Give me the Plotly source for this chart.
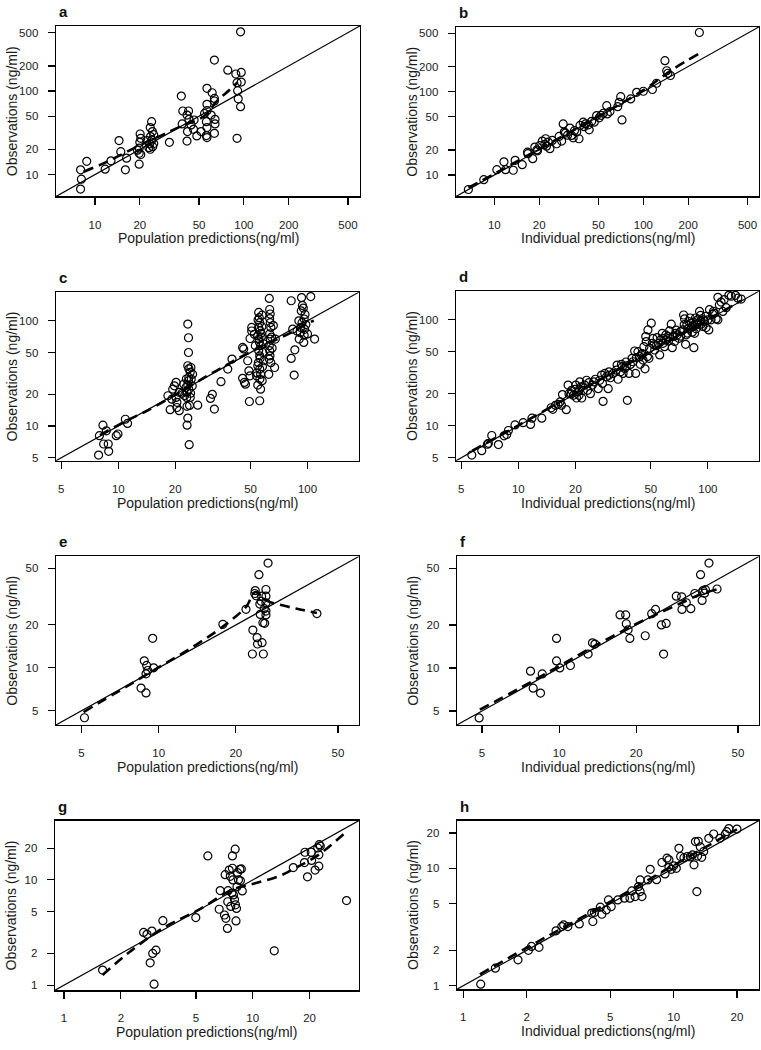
import plotly.graph_objects as go

W, H = 761, 1050

# ---------------- data ----------------
# a: population predictions vs observations (study 1)
pred_a = [8.0, 8.1, 8.0, 8.8, 11.7, 12.8, 14.5, 14.9, 16.0, 16.3, 19.8, 19.8, 20.1, 20.3, 20.0, 19.8, 20.3, 19.3,
          23.5, 24.0, 23.5, 24.3, 24.1, 23.3, 24.8, 24.4, 23.6, 24.8, 22.3, 23.0, 31.6, 38.0, 38.9, 38.5, 41.5, 41.8,
          42.5, 41.5, 42.8, 44.2, 45.9, 46.3, 48.3, 51.6, 54.4, 56.5, 56.5, 56.5, 56.0, 56.5, 56.0, 56.5, 60.3, 61.2,
          63.4, 63.4, 63.4, 64.0, 64.0, 63.4, 78.0, 88.3, 90.0, 90.8, 91.6, 90.0, 95.0, 96.0, 96.0, 95.0]
obs_a = [6.7, 8.8, 11.4, 14.4, 11.6, 14.6, 25.5, 18.8, 11.4, 15.7, 13.3, 20.7, 30.6, 27.2, 24.3, 18.0, 17.4, 19.6,
         20.1, 43.0, 36.5, 32.7, 25.9, 23.3, 23.5, 21.6, 28.5, 30.0, 25.5, 21.0, 24.3, 87.0, 57.7, 40.4, 25.2, 32.7,
         57.7, 51.6, 45.8, 39.3, 34.8, 45.0, 29.0, 32.7, 54.0, 69.4, 107.7, 58.2, 43.0, 36.5, 29.3, 27.7, 51.6, 95.5,
         235.0, 81.7, 76.0, 45.8, 40.4, 31.2, 178.0, 160.0, 126.0, 101.0, 80.7, 27.2, 512.0, 167.0, 128.0, 65.0]
smooth_x_a = [8.4, 11.5, 15.5, 22.0, 28.0, 38.0, 54.0, 66.0, 80.0, 91.0]
smooth_y_a = [10.8, 13.7, 17.8, 24.5, 29.5, 38.0, 50.0, 76.0, 103.0, 128.0]

# b: individual predictions vs observations (study 1)
pred_b = [6.7, 8.5, 10.4, 11.6, 11.9, 13.4, 13.8, 15.4, 16.7, 16.8, 18.1, 18.7, 19.3, 20.2, 21.0, 21.8, 22.1, 23.0,
          23.6, 22.4, 26.2, 27.2, 28.3, 29.0, 29.5, 30.0, 32.2, 33.0, 33.8, 35.7, 37.0, 37.6, 39.5, 41.0, 42.8, 43.3,
          46.8, 48.6, 50.6, 53.9, 56.8, 57.3, 59.7, 67.3, 68.8, 70.5, 71.9, 82.2, 90.2, 100.0, 115.0, 122.7, 139.6,
          143.5, 146.0, 152.0, 237.6, 24.5, 31.0, 34.5, 40.0, 45.0, 52.0, 19.5]
obs_b = [6.7, 8.8, 11.6, 14.4, 11.6, 11.4, 15.0, 13.3, 18.8, 18.0, 15.7, 21.6, 20.0, 22.6, 25.5, 23.3, 27.2, 24.8,
         20.7, 22.2, 23.7, 29.0, 25.5, 41.0, 32.7, 31.8, 36.5, 29.8, 27.9, 32.7, 27.2, 39.3, 43.0, 41.0, 40.0, 34.8,
         43.0, 51.6, 48.5, 55.0, 67.8, 54.0, 57.7, 66.0, 74.5, 87.0, 45.8, 81.7, 98.0, 101.0, 106.0, 126.0, 235.0,
         178.0, 166.0, 156.0, 512.0, 26.0, 30.0, 34.0, 38.0, 44.0, 52.0, 19.5]
smooth_x_b = [6.7, 10.0, 20.0, 50.0, 100.0, 159.0, 234.0]
smooth_y_b = [7.05, 10.3, 20.5, 50.5, 104.0, 187.0, 282.0]

# c: population predictions vs observations (study 2)
pred_c = [7.87, 7.95, 8.3, 8.37, 8.65, 8.85, 8.9, 9.76, 9.96, 10.9, 11.2,
          18.3, 18.8, 19.2, 19.4, 19.8, 20.2, 20.2, 20.4, 21.0, 21.0, 20.4, 21.7, 22.4,
          23.3, 23.5, 23.5, 23.3, 23.6, 24.0, 23.6, 23.5, 23.3, 23.6, 23.1, 23.0, 24.0, 23.1, 23.8, 23.3, 23.1, 23.7,
          24.2, 24.3, 24.7, 26.3, 22.8, 22.2, 24.6, 22.9, 24.1,
          30.7, 31.4, 32.2, 34.9, 37.9, 39.9,
          45.4, 46.0, 45.4, 46.4, 47.0, 48.3, 49.0, 49.3, 49.7, 49.7, 50.7, 50.7, 52.4, 53.0,
          55.2, 55.6, 55.9, 55.2, 56.2, 54.6, 55.6, 56.5, 55.2, 55.9, 54.6, 55.9, 56.5, 54.6, 56.5, 55.9, 53.8, 57.6,
          58.6, 57.0, 57.3, 54.8, 57.5, 56.2, 55.0, 57.8, 56.0, 54.0, 58.0, 58.4, 55.4, 56.8,
          62.8, 63.1, 63.5, 63.1, 63.5, 64.0, 63.1, 63.5, 62.8, 63.1, 63.3, 62.8, 62.4, 67.6, 67.0, 64.5, 65.0, 64.0, 66.0,
          82.0, 82.0, 83.5, 85.0, 85.7, 90.4, 91.5, 92.0, 92.7, 93.0, 93.5, 94.0, 95.0, 95.5, 96.0, 96.5, 96.0, 97.0,
          100.0, 104.0, 109.0, 98.0, 90.0, 88.0]
obs_c = [5.3, 8.1, 10.2, 6.75, 9.0, 6.75, 5.75, 8.1, 8.4, 11.6, 10.6,
         19.4, 14.3, 18.0, 22.4, 24.1, 26.0, 18.7, 15.0, 14.0, 20.9, 16.8, 20.5, 19.5,
         93.0, 69.0, 50.0, 37.4, 35.0, 32.4, 29.0, 27.0, 24.5, 22.4, 21.0, 18.7, 18.7, 15.4, 15.7, 11.9, 10.2, 6.65,
         36.0, 27.9, 31.1, 15.8, 23.3, 25.0, 24.0, 28.0, 20.5,
         18.3, 20.0, 14.5, 26.4, 34.8, 43.3,
         55.9, 54.0, 28.4, 26.0, 25.0, 41.7, 33.5, 17.1, 30.0, 67.9, 86.5, 80.0, 74.5, 58.0,
         120.0, 107.0, 96.0, 86.5, 80.0, 72.0, 63.0, 58.0, 52.0, 46.5, 37.4, 34.8, 31.0, 24.5, 22.4, 17.4, 30.0, 27.0,
         41.7, 70.0, 88.0, 102.0, 113.0, 44.0, 40.0, 36.5, 28.0, 32.0, 50.0, 60.5, 67.0, 76.0,
         163.0, 128.0, 116.0, 105.0, 96.0, 86.5, 75.0, 67.0, 58.0, 52.0, 46.5, 43.3, 31.0, 67.0, 36.0, 70.0, 55.0, 40.0, 90.0,
         155.0, 43.9, 83.4, 30.5, 53.0, 67.0, 77.0, 86.5, 124.0, 166.0, 96.0, 140.0, 132.0, 62.3, 73.0, 83.0, 104.0, 115.0,
         75.0, 170.0, 67.0, 92.0, 100.0, 80.0]
smooth_x_c = [8.0, 11.0, 14.0, 20.0, 25.0, 30.0, 35.0, 42.0, 55.0, 68.0, 85.0, 100.0, 108.0]
smooth_y_c = [8.2, 11.2, 13.8, 19.8, 25.0, 30.5, 35.5, 43.0, 55.0, 66.0, 80.0, 95.0, 100.0]

# d: individual predictions vs observations (study 2)
pred_d = [5.68, 6.41, 6.87, 7.24, 6.95, 7.85, 8.41, 8.68, 8.86, 9.6, 10.6, 11.6, 11.8, 13.3, 14.9, 15.2, 15.7, 16.2,
          16.6, 16.9, 17.1, 17.9, 18.3, 18.5, 19.1, 19.5, 19.9, 20.1, 20.3, 20.7, 20.9, 21.1, 21.4, 21.6, 22.0, 22.4,
          22.9, 23.2, 23.6, 24.0, 24.6, 25.5, 26.4, 26.9, 27.5, 27.8, 28.0, 28.6, 29.2, 29.8, 30.1, 30.6, 31.6, 32.9,
          33.2, 33.6, 34.6, 35.4, 35.7, 36.4, 37.2, 37.6, 38.4, 39.0, 39.8, 40.3, 41.1, 41.6, 42.0, 42.8, 43.7, 44.6,
          45.5, 46.0, 46.6, 47.0, 47.3, 48.3, 48.9, 49.3, 50.3, 50.9, 51.3, 52.4, 53.5, 54.8, 55.7, 56.3, 57.5, 58.0,
          59.1, 60.4, 61.5, 62.8, 64.1, 64.9, 65.4, 66.8, 67.6, 69.0, 70.4, 71.8, 73.8, 74.5, 75.4, 76.3, 76.9, 77.5,
          78.5, 79.4, 80.7, 81.7, 82.7, 83.4, 84.4, 85.1, 86.1, 86.8, 87.5, 88.5, 90.4, 91.4, 92.2, 94.1, 96.0, 97.9,
          101.2, 102.0, 104.0, 106.0, 110.6, 113.0, 113.0, 115.0, 117.5, 122.0, 129.0, 133.0, 140.0, 144.0, 150.0,
          45.0, 52.0, 58.0, 62.0, 66.0, 72.0, 78.0, 82.0, 88.0, 95.0, 100.0, 108.0, 120.0, 125.0, 35.0, 30.0, 25.0,
          21.0, 19.0, 37.0, 44.0, 48.0, 54.0, 60.0, 68.0, 75.0, 84.0, 92.0, 98.0, 107.0]
obs_d = [5.3, 5.83, 6.7, 8.1, 6.84, 6.65, 8.04, 8.28, 9.03, 10.2, 10.7, 10.3, 11.8, 11.8, 14.8, 14.3, 15.6, 15.9,
         16.8, 15.6, 19.7, 14.2, 24.2, 20.1, 21.6, 19.4, 22.1, 24.2, 18.3, 20.9, 19.4, 26.0, 23.3, 18.3, 21.6, 24.2,
         26.9, 21.6, 25.6, 20.1, 24.2, 27.5, 22.4, 26.9, 30.1, 25.1, 17.0, 31.2, 29.0, 22.4, 32.3, 28.4, 31.2, 33.5,
         37.4, 27.5, 32.3, 36.1, 31.2, 34.8, 36.8, 17.4, 31.2, 37.9, 43.3, 40.2, 50.8, 31.2, 43.9, 50.0, 44.9, 46.6,
         41.7, 55.8, 34.5, 69.5, 62.3, 80.3, 43.3, 53.8, 92.9, 60.0, 66.9, 51.9, 57.0, 60.0, 46.6, 64.6, 74.6, 66.9,
         55.8, 64.6, 69.5, 78.6, 90.9, 54.6, 69.5, 62.3, 74.6, 72.1, 66.9, 77.5, 80.3, 111.0, 102.0, 58.7, 72.1, 89.7,
         82.2, 96.4, 104.0, 92.9, 76.4, 86.5, 54.6, 74.6, 104.0, 82.2, 89.7, 100.0, 120.0, 110.0, 90.9, 86.5, 96.4, 84.5,
         80.3, 124.5, 100.0, 113.0, 102.0, 100.0, 163.0, 138.6, 147.0, 155.0, 170.0, 167.0, 170.0, 160.0, 157.0,
         48.0, 58.0, 60.0, 63.0, 70.0, 70.0, 75.0, 85.0, 92.0, 100.0, 100.0, 115.0, 120.0, 130.0, 38.0, 30.0, 26.0,
         22.0, 20.0, 40.0, 38.0, 45.0, 68.0, 72.0, 80.0, 90.0, 95.0, 98.0, 108.0, 120.0]
smooth_x_d = [5.7, 10.0, 20.0, 40.0, 60.0, 100.0, 150.0]
smooth_y_d = [5.8, 10.1, 20.3, 40.5, 61.0, 100.0, 152.0]

# e: population predictions vs observations (study 3)
pred_e = [5.14, 8.54, 8.93, 8.79, 8.98, 8.93, 9.06, 9.48, 9.56, 17.8, 21.9, 23.3, 23.2, 23.7, 23.8, 24.0, 24.2, 24.3,
          24.6, 24.8, 24.9, 25.1, 25.2, 25.3, 25.5, 25.6, 25.8, 25.9, 26.2, 26.2, 26.2, 26.2, 26.2, 26.7, 41.4]
obs_e = [4.47, 7.22, 6.67, 11.2, 10.4, 9.08, 9.58, 16.1, 10.0, 20.2, 25.7, 18.4, 12.5, 33.2, 34.8, 32.0, 16.3, 14.7,
         45.0, 28.0, 23.7, 29.3, 31.8, 15.0, 20.7, 12.5, 26.0, 20.5, 35.4, 31.8, 28.6, 25.0, 23.5, 54.2, 24.0]
smooth_x_e = [5.1, 9.0, 14.0, 18.5, 22.0, 23.8, 26.5, 31.5, 36.0, 41.4]
smooth_y_e = [4.9, 9.0, 14.5, 20.5, 27.0, 34.0, 29.5, 27.0, 25.5, 24.2]

# f: individual predictions vs observations (study 3)
pred_f = [4.87, 7.73, 7.92, 8.46, 8.59, 9.77, 9.77, 10.06, 11.07, 12.98, 13.5, 13.8, 17.3, 18.2, 18.3, 18.6, 18.9,
          21.7, 23.0, 23.8, 25.1, 25.6, 26.2, 28.7, 30.1, 30.2, 31.4, 32.7, 33.9, 35.7, 36.2, 36.5, 37.0, 37.3, 38.5, 41.4]
obs_f = [4.47, 9.5, 7.22, 6.67, 9.08, 16.1, 11.2, 10.0, 10.4, 12.5, 15.0, 14.7, 23.5, 23.5, 20.4, 18.5, 16.1,
         16.8, 24.0, 25.7, 20.0, 12.5, 20.5, 31.8, 31.5, 25.7, 28.6, 26.0, 33.2, 45.0, 29.7, 34.8, 33.4, 35.3, 54.2, 35.7]
smooth_x_f = [4.9, 7.0, 10.0, 14.0, 20.0, 25.0, 30.0, 36.0, 41.4]
smooth_y_f = [5.1, 7.2, 10.3, 14.5, 20.3, 24.5, 28.5, 33.0, 35.5]

# g: population predictions vs observations (study 4)
pred_g = [1.6, 2.64, 2.75, 2.92, 2.86, 2.95, 3.07, 3.0, 3.34, 4.99, 5.78, 6.64, 6.72, 7.08, 7.14, 7.2, 7.34, 7.37,
          7.4, 7.5, 7.6, 7.65, 7.75, 7.8, 7.8, 7.9, 7.85, 8.07, 8.0, 8.1, 8.15, 8.2, 8.25, 8.3, 8.4, 8.55, 8.6, 8.7,
          8.8, 13.0, 16.4, 18.9, 18.8, 19.5, 20.4, 20.5, 21.4, 22.1, 22.4, 22.4, 22.5, 22.8, 31.4]
obs_g = [1.39, 3.17, 3.04, 3.26, 1.63, 2.0, 2.15, 1.02, 4.1, 4.38, 16.9, 5.26, 7.91, 4.64, 11.2, 4.31, 3.46, 6.2,
         7.9, 12.4, 10.8, 5.6, 7.5, 12.9, 16.9, 7.2, 10.0, 19.6, 6.5, 5.8, 4.07, 5.36, 8.6, 11.7, 10.0, 12.6, 9.8, 12.7,
         7.86, 2.12, 13.1, 18.3, 14.6, 10.7, 18.3, 15.3, 12.4, 20.1, 17.3, 13.5, 21.6, 21.0, 6.36]
smooth_x_g = [1.6, 2.29, 3.44, 5.16, 7.74, 10.3, 13.7, 16.7, 22.3, 31.4]
smooth_y_g = [1.25, 2.15, 3.59, 5.18, 8.03, 9.3, 10.8, 12.9, 17.3, 28.8]

# h: individual predictions vs observations (study 4)
pred_h = [1.21, 1.42, 1.82, 2.04, 2.11, 2.29, 2.76, 2.94, 3.0, 3.14, 3.56, 4.08, 4.13, 4.2, 4.48, 4.56, 4.78, 4.9,
          5.05, 5.43, 5.84, 6.2, 6.33, 6.56, 6.81, 6.93, 7.07, 6.93, 7.55, 7.74, 8.3, 8.8, 9.1, 9.3, 9.5, 9.5, 9.75,
          10.0, 10.3, 10.6, 10.8, 11.2, 11.6, 12.0, 12.3, 12.5, 12.7, 12.9, 13.0, 13.1, 13.4, 13.6, 13.9, 14.7, 15.5,
          16.6, 17.9, 18.3, 17.6, 20.0]
obs_h = [1.03, 1.41, 1.66, 2.0, 2.16, 2.12, 2.93, 3.19, 3.29, 3.19, 3.36, 4.15, 3.52, 4.2, 4.66, 4.06, 4.42, 5.38,
         4.72, 5.38, 5.56, 5.56, 6.42, 5.74, 6.98, 6.33, 5.74, 7.96, 7.96, 9.8, 8.0, 11.2, 8.95, 12.2, 10.2, 11.8, 9.8,
         10.5, 10.0, 14.8, 12.6, 12.3, 12.6, 12.5, 13.0, 10.7, 16.9, 6.33, 12.7, 17.0, 15.2, 12.4, 13.9, 18.0, 19.6,
         18.0, 20.5, 21.8, 19.5, 21.6]
smooth_x_h = [1.2, 2.0, 5.0, 10.0, 20.0]
smooth_y_h = [1.25, 2.1, 5.2, 10.6, 21.5]

ticks_ab = [10, 20, 50, 100, 200, 500]
ticks_cd = [5, 10, 20, 50, 100]
ticks_ef = [5, 10, 20, 50]
ticks_gh = [1, 2, 5, 10, 20]

pop_title = "Population predictions(ng/ml)"
ind_title = "Individual predictions(ng/ml)"
obs_title = "Observations (ng/ml)"

# ---------------- layout geometry (screen pixels) ----------------
panels = [
    ("a", pred_a, obs_a, smooth_x_a, smooth_y_a, ticks_ab, (0.738, 2.78), (56, 360, 26, 197), pop_title),
    ("b", pred_b, obs_b, smooth_x_b, smooth_y_b, ticks_ab, (0.743, 2.776), (456, 759, 27, 197), ind_title),
    ("c", pred_c, obs_c, smooth_x_c, smooth_y_c, ticks_cd, (0.671, 2.272), (56, 359, 293, 462), pop_title),
    ("d", pred_d, obs_d, smooth_x_d, smooth_y_d, ticks_cd, (0.671, 2.270), (456, 759, 292, 462), ind_title),
    ("e", pred_e, obs_e, smooth_x_e, smooth_y_e, ticks_ef, (0.600, 1.781), (56, 359, 558, 727), pop_title),
    ("f", pred_f, obs_f, smooth_x_f, smooth_y_f, ticks_ef, (0.601, 1.781), (457, 759, 558, 727), ind_title),
    ("g", pred_g, obs_g, smooth_x_g, smooth_y_g, ticks_gh, (-0.048, 1.563), (55, 359, 823, 993), pop_title),
    ("h", pred_h, obs_h, smooth_x_h, smooth_y_h, ticks_gh, (-0.030, 1.406), (457, 759, 823, 992), ind_title),
]


def px_x(p):
    return p / W


def px_y(p):
    return 1 - p / H


FONT = "Liberation Sans, Arial, Helvetica, sans-serif"
fig = go.Figure()
annotations = []
layout_axes = {}

for i, (letter, px, ob, sx, sy, tv, rng, box, xtitle) in enumerate(panels):
    n = "" if i == 0 else str(i + 1)
    xa, ya = "x" + n, "y" + n
    left, right, top, bottom = box
    lo, hi = rng
    fig.add_trace(go.Scatter(x=px, y=ob, mode="markers", xaxis=xa, yaxis=ya, showlegend=False,
                             marker=dict(symbol="circle-open", size=8, color="black",
                                         line=dict(width=1.2, color="black")),
                             cliponaxis=False))
    fig.add_trace(go.Scatter(x=[10 ** lo, 10 ** hi], y=[10 ** lo, 10 ** hi], mode="lines",
                             xaxis=xa, yaxis=ya, showlegend=False,
                             line=dict(color="black", width=1.2)))
    fig.add_trace(go.Scatter(x=sx, y=sy, mode="lines", xaxis=xa, yaxis=ya, showlegend=False,
                             line=dict(color="black", width=2.6, dash="10px,6px", shape="spline")))
    axis_common = dict(type="log", range=[lo, hi], tickvals=tv, ticktext=[str(t) for t in tv],
                       ticks="outside", ticklen=7, tickwidth=1.2, tickcolor="black",
                       showline=True, mirror=True, linecolor="black", linewidth=1.4,
                       showgrid=False, zeroline=False,
                       tickfont=dict(family=FONT, size=11.5, color="#1a1a1a"))
    layout_axes["xaxis" + n] = dict(axis_common, domain=[px_x(left), px_x(right)], anchor=ya,
                                    ticklabelstandoff=10)
    layout_axes["yaxis" + n] = dict(axis_common, domain=[px_y(bottom), px_y(top)], anchor=xa,
                                    ticklabelstandoff=7)
    annotations.append(dict(text=xtitle, xref="paper", yref="paper", x=px_x((left + right) / 2),
                            y=px_y(bottom + 42), xanchor="center", yanchor="middle", showarrow=False,
                            font=dict(family=FONT, size=14, color="#1a1a1a")))
    annotations.append(dict(text=obs_title, xref="paper", yref="paper", x=px_x(left - 44),
                            y=px_y((top + bottom) / 2), xanchor="center", yanchor="middle", showarrow=False,
                            textangle=-90, font=dict(family=FONT, size=14, color="#1a1a1a")))
    annotations.append(dict(text="<b>%s</b>" % letter, xref="paper", yref="paper", x=px_x(left + 1),
                            y=px_y(top - 4), xanchor="left", yanchor="bottom", showarrow=False,
                            font=dict(family=FONT, size=15, color="#111")))

fig.update_layout(width=W, height=H, margin=dict(l=0, r=0, t=0, b=0),
                  paper_bgcolor="white", plot_bgcolor="white", showlegend=False,
                  annotations=annotations, **layout_axes)

# remove the browser's default 8px body margin so the figure fills the window exactly
fig.write_html("out.html", config={"displayModeBar": False, "staticPlot": True},
               post_script="document.body.style.margin='0px';")
